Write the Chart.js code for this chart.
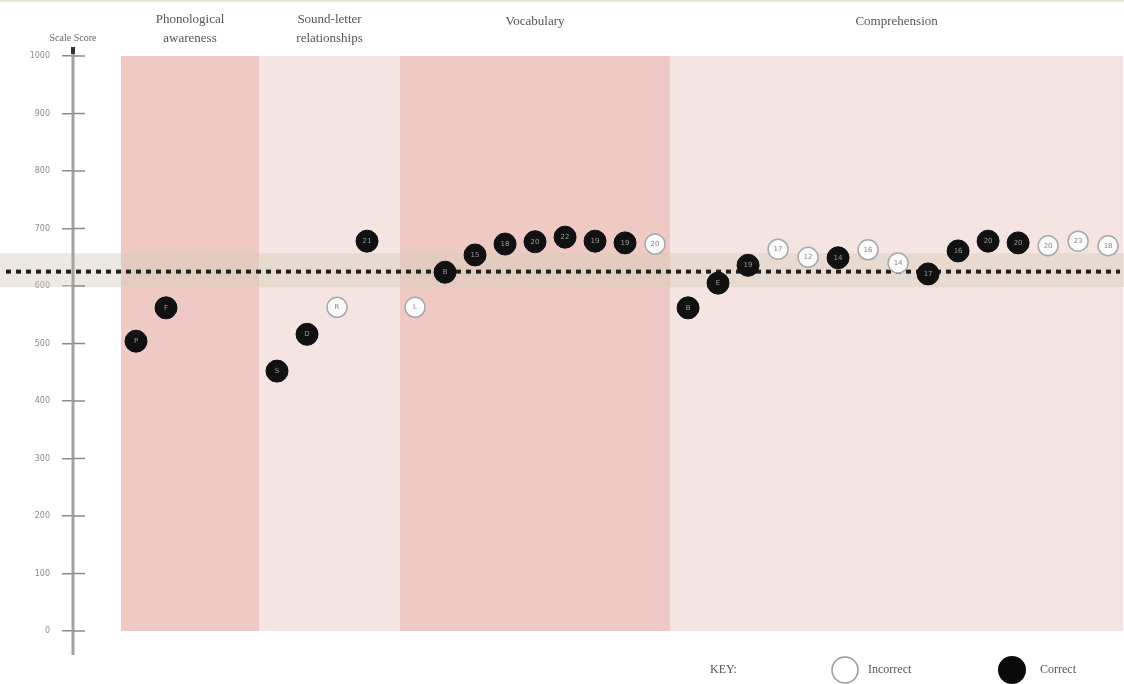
<!DOCTYPE html>
<html lang="en">
<head>
    <meta charset="UTF-8"/>
    <title>Scale Score by Strand</title>
    <style>
        html, body {
            margin: 0;
            padding: 0;
            background: #fff;
            overflow: hidden;
        }

        #wrap {
            position: relative;
            width: 1124px;
            height: 684px;
            border-top: 2px solid #ebe3d2;
            box-sizing: border-box;
        }
    </style>
    <script src="https://cdn.jsdelivr.net/npm/chart.js@4/dist/chart.umd.min.js"></script>
</head>
<body>
<div id="wrap">
    <canvas id="chart"></canvas>
</div>

<script>
    // Strands (shaded columns)
    const strandNames = [['Phonological', 'awareness'], ['Sound-letter', 'relationships'], ['Vocabulary'], ['Comprehension']];
    const strandFrom = [1.6, 6.2, 10.9, 19.9];
    const strandTo = [6.2, 10.9, 19.9, 35];
    const strandColors = ['#efcac4', '#f5e5e2', '#efcac4', '#f5e5e2'];

    // Items: position along the test, scale score, answer, label
    const itemPos = [2.1, 3.1, 6.8, 7.8, 8.8, 9.8, 11.4, 12.4, 13.4, 14.4, 15.4, 16.4, 17.4, 18.4, 19.4,
        20.5, 21.5, 22.5, 23.5, 24.5, 25.5, 26.5, 27.5, 28.5, 29.5, 30.5, 31.5, 32.5, 33.5, 34.5];
    const itemScore = [504, 562, 452, 516, 563, 678, 563, 624, 654, 673, 677, 685, 678, 675, 673,
        562, 605, 636, 664, 650, 649, 663, 640, 621, 661, 678, 675, 670, 678, 670];
    const itemCorrect = [1, 1, 1, 1, 0, 1, 0, 1, 1, 1, 1, 1, 1, 1, 0,
        1, 1, 1, 0, 0, 1, 0, 0, 1, 1, 1, 1, 0, 0, 0];
    const itemLabel = ['P', 'F', 'S', 'D', 'R', '21', 'L', 'B', '15', '18', '20', '22', '19', '19', '20',
        'B', 'E', '19', '17', '12', '14', '16', '14', '17', '16', '20', '20', '20', '23', '18'];

    // Scale score axis and benchmark
    const yTicks = [0, 100, 200, 300, 400, 500, 600, 700, 800, 900, 1000];
    const benchmark = 625;
    const benchmarkLow = 598;
    const benchmarkHigh = 657;

    // Split points into correct / incorrect
    const correctPts = [];
    const incorrectPts = [];
    itemPos.forEach((x, i) => {
        const pt = {x: x, y: itemScore[i], label: itemLabel[i]};
        (itemCorrect[i] ? correctPts : incorrectPts).push(pt);
    });

    const AXIS_GREY = '#a2a2a2';
    const TEXT_GREY = '#555';

    const decorPlugin = {
        id: 'decor',
        beforeDatasetsDraw(chart) {
            const {ctx, chartArea: a, scales: {x, y}} = chart;
            const W = chart.width;
            ctx.save();

            // strand columns
            strandFrom.forEach((f, i) => {
                const l = x.getPixelForValue(f);
                const r = x.getPixelForValue(strandTo[i]);
                ctx.fillStyle = strandColors[i];
                ctx.fillRect(l, a.top, r - l, a.bottom - a.top);
            });

            // benchmark range band
            const bt = y.getPixelForValue(benchmarkHigh);
            const bb = y.getPixelForValue(benchmarkLow);
            ctx.fillStyle = 'rgba(214, 204, 188, 0.45)';
            ctx.fillRect(0, bt, W, bb - bt);

            // axis line with cap
            ctx.fillStyle = AXIS_GREY;
            ctx.fillRect(a.left - 1.5, a.top - 9, 3, a.bottom - a.top + 33);
            ctx.fillStyle = '#333';
            ctx.fillRect(a.left - 2, a.top - 9, 4, 7);

            // inner tick stubs
            ctx.strokeStyle = '#8a8a8a';
            ctx.lineWidth = 1.5;
            yTicks.forEach(v => {
                const py = y.getPixelForValue(v);
                ctx.beginPath();
                ctx.moveTo(a.left, py);
                ctx.lineTo(a.left + 12, py);
                ctx.stroke();
            });

            // benchmark dotted line
            const by = y.getPixelForValue(benchmark);
            ctx.strokeStyle = '#1e1e1e';
            ctx.lineWidth = 4;
            ctx.setLineDash([5, 5]);
            ctx.beginPath();
            ctx.moveTo(6, by);
            ctx.lineTo(W - 4, by);
            ctx.stroke();
            ctx.restore();
        },
        afterDatasetsDraw(chart) {
            const {ctx, chartArea: a, scales: {x}} = chart;
            ctx.save();
            ctx.textAlign = 'center';
            ctx.textBaseline = 'middle';

            // item labels inside markers
            ctx.font = '7px "DejaVu Sans"';
            chart.data.datasets.forEach((ds, di) => {
                const meta = chart.getDatasetMeta(di);
                meta.data.forEach((el, j) => {
                    ctx.fillStyle = di === 0 ? '#9a9a9a' : '#8a8a8a';
                    ctx.fillText(ds.data[j].label, el.x, el.y);
                });
            });

            // strand titles
            ctx.fillStyle = TEXT_GREY;
            ctx.font = '13px "Liberation Serif"';
            strandNames.forEach((lines, i) => {
                const cx = (x.getPixelForValue(strandFrom[i]) + x.getPixelForValue(strandTo[i])) / 2;
                lines.forEach((t, k) => {
                    ctx.fillText(t, cx, lines.length === 1 ? 20 : 18 + k * 19);
                });
            });

            // axis title
            ctx.font = '10px "Liberation Serif"';
            ctx.fillStyle = '#666';
            ctx.fillText('Scale Score', a.left, 36);

            // key
            const ky = 668;
            ctx.font = '12px "Liberation Serif"';
            ctx.textAlign = 'left';
            ctx.fillStyle = '#555';
            ctx.fillText('KEY:', 710, ky);
            ctx.beginPath();
            ctx.arc(845, ky, 13, 0, Math.PI * 2);
            ctx.fillStyle = '#fff';
            ctx.fill();
            ctx.strokeStyle = '#999';
            ctx.lineWidth = 1.5;
            ctx.stroke();
            ctx.fillStyle = '#555';
            ctx.fillText('Incorrect', 868, ky);
            ctx.beginPath();
            ctx.arc(1012, ky, 14, 0, Math.PI * 2);
            ctx.fillStyle = '#0a0a0a';
            ctx.fill();
            ctx.fillStyle = '#555';
            ctx.fillText('Correct', 1040, ky);
            ctx.restore();
        }
    };

    new Chart(document.getElementById('chart'), {
        type: 'scatter',
        data: {
            datasets: [{
                label: 'Correct',
                data: correctPts,
                clip: false,
                pointRadius: 11,
                pointHoverRadius: 11,
                backgroundColor: '#111',
                borderColor: '#111',
                borderWidth: 1
            }, {
                label: 'Incorrect',
                data: incorrectPts,
                clip: false,
                pointRadius: 10,
                pointHoverRadius: 10,
                backgroundColor: '#fbfbfb',
                borderColor: '#a8a8a8',
                borderWidth: 1.5
            }]
        },
        options: {
            animation: false,
            responsive: true,
            maintainAspectRatio: false,
            layout: {padding: {top: 54, bottom: 53, right: 0, left: 0}},
            scales: {
                x: {
                    type: 'linear',
                    display: false,
                    min: 0,
                    max: 34.63
                },
                y: {
                    min: 0,
                    max: 1000,
                    afterFit(scale) {
                        scale.width = 73;
                    },
                    afterBuildTicks(scale) {
                        scale.ticks = yTicks.map(v => ({value: v}));
                    },
                    border: {display: false},
                    grid: {
                        drawOnChartArea: false,
                        tickLength: 11,
                        color: '#8a8a8a',
                        lineWidth: 1.5
                    },
                    ticks: {
                        padding: 12,
                        color: '#8c8c8c',
                        font: {family: 'DejaVu Sans', size: 8},
                        callback: v => String(v)
                    }
                }
            },
            plugins: {
                legend: {display: false},
                tooltip: {enabled: false}
            }
        },
        plugins: [decorPlugin]
    });
</script>
</body>
</html>
